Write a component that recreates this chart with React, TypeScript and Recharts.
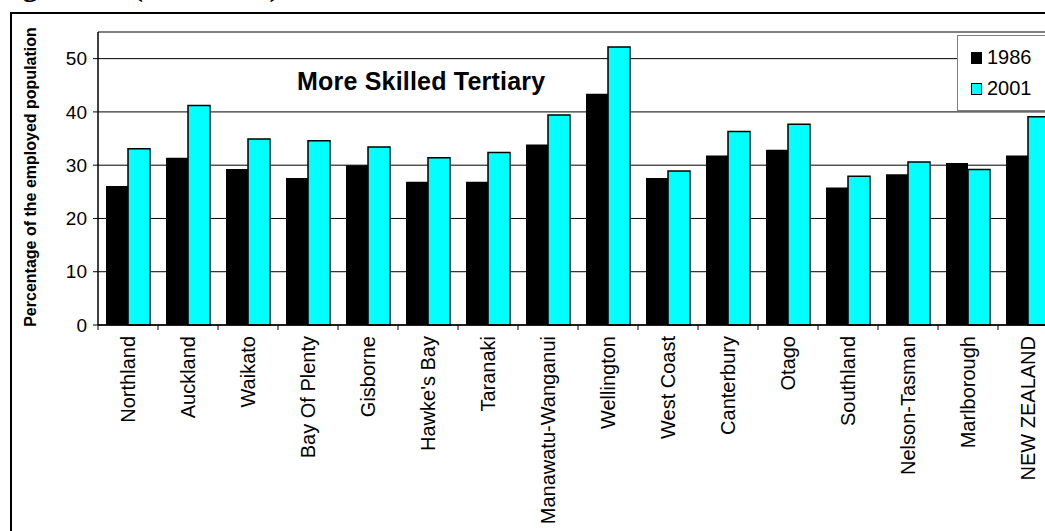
import React from "react";
import { BarChart, Bar, XAxis, YAxis, CartesianGrid, ReferenceLine } from "recharts";

const regions = [
  "Northland", "Auckland", "Waikato", "Bay Of Plenty", "Gisborne", "Hawke's Bay",
  "Taranaki", "Manawatu-Wanganui", "Wellington", "West Coast", "Canterbury",
  "Otago", "Southland", "Nelson-Tasman", "Marlborough", "NEW ZEALAND",
];
const values1986 = [26.1, 31.4, 29.3, 27.6, 30.0, 26.9, 26.9, 33.9, 43.4, 27.6, 31.8, 32.9, 25.8, 28.3, 30.4, 31.8];
const values2001 = [33.1, 41.2, 34.9, 34.6, 33.4, 31.4, 32.4, 39.4, 52.2, 28.9, 36.3, 37.7, 27.9, 30.6, 29.2, 39.1];
const yTicks = [0, 10, 20, 30, 40, 50];
const seriesNames = ["1986", "2001"];
const seriesColors = ["#000000", "#00FFFF"];
const chartTitle = "More Skilled Tertiary";
const yLabel = "Percentage of the employed population";
const figureCaption = "Figure 3.4 (continued)";

const data = regions.map((r, i) => ({ region: r, y1986: values1986[i], y2001: values2001[i] }));

const FONT = "'Liberation Sans', Arial, sans-serif";

const XTick = (props: any) => {
  const { x, y, payload } = props;
  const half = payload && typeof payload.offset === "number" && payload.offset > 0 ? payload.offset : 30;
  const ty = y + 4;
  return (
    <g>
      <line x1={x - half} y1={y - 7} x2={x - half} y2={y - 2} stroke="#000" strokeWidth={1} />
      <text
        x={x}
        y={ty}
        transform={`rotate(-90, ${x}, ${ty})`}
        textAnchor="end"
        dominantBaseline="central"
        fontFamily={FONT}
        fontSize={20}
        fill="#000"
      >
        {payload.value}
      </text>
    </g>
  );
};

const LegendBox = () => (
  <div
    style={{
      position: "absolute",
      left: 957,
      top: 35,
      width: 110,
      height: 76,
      border: "1.5px solid #808080",
      background: "#fff",
      boxSizing: "border-box",
      fontFamily: FONT,
      fontSize: 20,
      color: "#000",
      paddingLeft: 13,
      paddingTop: 6,
    }}
  >
    {seriesNames.map((n, i) => (
      <div key={n} style={{ display: "flex", alignItems: "center", height: 31 }}>
        <span
          style={{
            display: "inline-block",
            width: 9,
            height: 10,
            background: seriesColors[i],
            border: "1px solid #000",
            marginRight: 5,
          }}
        />
        <span>{n}</span>
      </div>
    ))}
  </div>
);

export default function App() {
  return (
    <div style={{ position: "absolute", left: 0, top: 0, width: 1045, height: 531, overflow: "hidden", background: "#fff" }}>
      <div
        style={{
          position: "absolute",
          left: -4,
          top: -29,
          fontFamily: "'Liberation Serif', 'Times New Roman', serif",
          fontWeight: "bold",
          fontSize: 30,
          lineHeight: "30px",
          whiteSpace: "nowrap",
        }}
      >
        {figureCaption}
      </div>
      <div
        style={{
          position: "absolute",
          left: 10,
          top: 12,
          width: 1100,
          height: 600,
          border: "2px solid #000",
          boxSizing: "border-box",
        }}
      />
      <div style={{ position: "absolute", left: 0, top: 0 }}>
        <BarChart
          width={1080}
          height={531}
          data={data}
          margin={{ top: 32, right: 22, bottom: 0, left: 38 }}
          barSize={22}
          barGap={0}
        >
          <CartesianGrid horizontal={true} vertical={false} stroke="#000" strokeWidth={1} />
          <ReferenceLine y={55} stroke="#808080" strokeWidth={2} ifOverflow="extendDomain" />
          <XAxis
            dataKey="region"
            interval={0}
            height={206}
            tickLine={false}
            axisLine={{ stroke: "#000", strokeWidth: 1.5 }}
            tick={<XTick />}
            tickSize={5}
            tickMargin={2}
          />
          <YAxis
            width={60}
            domain={[0, 55]}
            ticks={yTicks}
            interval={0}
            tickSize={5}
            tickMargin={6}
            axisLine={{ stroke: "#000", strokeWidth: 1.5 }}
            tickLine={{ stroke: "#000" }}
            tick={{ fill: "#000", fontSize: 19, fontFamily: FONT }}
            label={{
              content: () => (
                <text
                  x={30}
                  y={177}
                  transform="rotate(-90, 30, 177)"
                  textAnchor="middle"
                  dominantBaseline="central"
                  fontFamily={FONT}
                  fontWeight="bold"
                  fontSize={16}
                  fill="#000"
                >
                  {yLabel}
                </text>
              ),
            }}
          />
          <Bar dataKey="y1986" name={seriesNames[0]} fill={seriesColors[0]} isAnimationActive={false} />
          <Bar dataKey="y2001" name={seriesNames[1]} fill={seriesColors[1]} stroke="#000" strokeWidth={1.5} isAnimationActive={false} />
        </BarChart>
      </div>
      <LegendBox />
      <div
        style={{
          position: "absolute",
          left: 297,
          top: 67,
          fontFamily: FONT,
          fontWeight: "bold",
          fontSize: 25,
          lineHeight: "28px",
          letterSpacing: 0.2,
          whiteSpace: "nowrap",
          color: "#000",
        }}
      >
        {chartTitle}
      </div>
    </div>
  );
}
